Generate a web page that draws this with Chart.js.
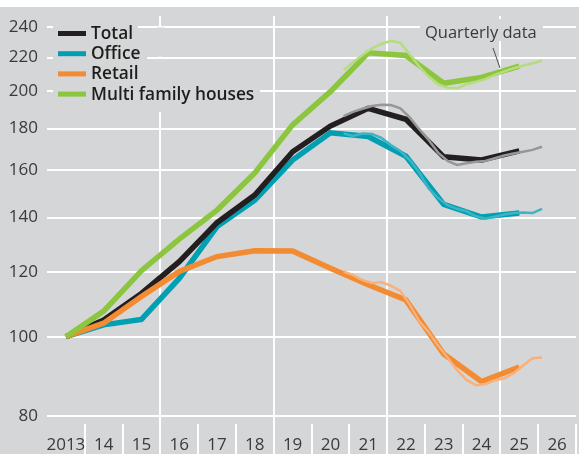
<!DOCTYPE html>
<html>
<head>
<meta charset="utf-8">
<script src="https://cdn.jsdelivr.net/npm/chart.js@4.4.1/dist/chart.umd.min.js"></script>
<style>
  html, body { margin: 0; padding: 0; background: #fff; }
  .frame { position: absolute; left: 0; top: 7px; width: 579px; height: 447px; background: #d5d6d8; }
  canvas { display: block; }
</style>
</head>
<body>
<div class="frame"><canvas id="chart" width="579" height="447"></canvas></div>
<script>
// annual index, 2013 = 100
const years = [2013, 2014, 2015, 2016, 2017, 2018, 2019, 2020, 2021, 2022, 2023, 2024, 2025];
const totalAnnual = [100, 104.8, 113, 123.6, 138, 149.2, 168.6, 181.3, 190.6, 184.8, 166.2, 164.7, 169];
const officeAnnual = [100, 103.4, 105, 117.9, 136.5, 147.1, 164.7, 177.9, 176, 166.5, 145.3, 140.2, 141.8];
const retailAnnual = [100, 103.9, 112, 120.2, 125.4, 127.5, 127.4, 121.3, 115.8, 110.9, 95.2, 88.1, 91.8];
const mfhAnnual = [100, 107.5, 120.5, 131.7, 143, 158.8, 181.9, 199.8, 223, 221.3, 204.6, 208, 214.8];

// quarterly index
const quarters = ['2020 Q4', '2021 Q1', '2021 Q2', '2021 Q3', '2021 Q4', '2022 Q1', '2022 Q2', '2022 Q3', '2022 Q4',
  '2023 Q1', '2023 Q2', '2023 Q3', '2023 Q4', '2024 Q1', '2024 Q2', '2024 Q3', '2024 Q4',
  '2025 Q1', '2025 Q2', '2025 Q3', '2025 Q4', '2026 Q1'];
const totalQuarterly = [186.5, 188.7, 190.4, 191.9, 192.6, 192.4, 190.6, 185.8, 179.7, 174.3, 168.2, 164.3, 162.4, 163.2, 163.9, 164.3, 165.5, 166.8, 167.8, 168.6, 169.5, 171];
const officeQuarterly = [177.5, 176.3, 177.5, 177.3, 175.3, 171.8, 169, 164.7, 159, 152, 148, 145, 143.5, 142.5, 140.5, 139.5, 140.3, 141.2, 141.8, 142, 141.8, 143.5];
const retailQuarterly = [120.2, 119, 117.3, 116.4, 116.6, 115.5, 113.8, 109.5, 104.5, 101.3, 97.5, 94.3, 91, 88.5, 87.2, 87.5, 88.4, 88.9, 90.2, 92.2, 94.1, 94.3];
const mfhQuarterly = [212.4, 217.1, 221.6, 225.8, 228.6, 230.6, 229.4, 222, 214.5, 208.5, 204, 202, 201.7, 204, 205.5, 207, 209.5, 211.5, 213.5, 215, 216.5, 218];

const xTickLabels = ['2013', '14', '15', '16', '17', '18', '19', '20', '21', '22', '23', '24', '25', '26'];
const yTicks = [80, 100, 120, 140, 160, 180, 200, 220, 240];
const gridYears = [2016, 2019, 2022, 2025];

const BG = '#d5d6d8';
const FONT = "'Open Sans', sans-serif";
const CLEAR = 'rgba(0,0,0,0)';

const annualX = years.map((y) => y + 0.5);
const quarterX = quarters.map((q) => {
  const [y, n] = q.split(' Q').map(Number);
  return y + n * 0.25 - 0.15;
});
const points = (xs, values) => values.map((v, i) => ({ x: xs[i], y: v }));

const series = [
  { label: 'Total', annual: totalAnnual, quarterly: totalQuarterly, color: '#231f20', light: '#979797', order: 3 },
  { label: 'Office', annual: officeAnnual, quarterly: officeQuarterly, color: '#00a0b2', light: '#3db4c4', order: 4 },
  { label: 'Retail', annual: retailAnnual, quarterly: retailQuarterly, color: '#f28b32', light: '#f9b07a', order: 2 },
  { label: 'Multi family houses', annual: mfhAnnual, quarterly: mfhQuarterly, color: '#8cc63e', light: '#b5dc7e', order: 1 }
];

const datasets = [];
series.forEach((s) => {
  datasets.push({ label: s.label, data: points(annualX, s.annual), borderColor: s.color, borderWidth: 5.5, order: s.order });
  datasets.push({ label: s.label + ' (quarterly)', data: points(quarterX, s.quarterly), borderColor: s.light, borderWidth: 2.5, order: 0 });
});

// gray boxes behind the legend rows and the note, same as the source graphic
const knockouts = [
  [53, 15, 85, 21], [53, 36, 94, 20], [53, 56, 88, 20], [53, 76, 207, 29],
  [157, 20.5, 8, 29], [157, 52, 8, 24],
  [420, 12, 123, 22]
];

const overlay = {
  id: 'overlay',
  beforeDatasetsDraw(chart) {
    const { ctx } = chart;
    ctx.save();
    ctx.fillStyle = BG;
    knockouts.forEach((r) => ctx.fillRect(r[0], r[1], r[2], r[3]));
    ctx.restore();
  },
  afterDatasetsDraw(chart) {
    const { ctx } = chart;
    ctx.save();
    series.forEach((s, i) => {
      const y = 26.5 + i * 20.2;
      ctx.strokeStyle = s.color;
      ctx.lineWidth = 5;
      ctx.beginPath(); ctx.moveTo(58, y); ctx.lineTo(86, y); ctx.stroke();
      ctx.fillStyle = '#1d1d1b';
      ctx.font = `600 17.3px ${FONT}`;
      ctx.textBaseline = 'middle';
      ctx.fillText(s.label, 91, y + 0.5);
    });
    ctx.font = `16.5px ${FONT}`;
    ctx.fillStyle = '#3a3a3a';
    ctx.textBaseline = 'alphabetic';
    ctx.fillText('Quarterly data', 425, 30.5);
    ctx.strokeStyle = '#4a4a4a';
    ctx.lineWidth = 1;
    ctx.beginPath(); ctx.moveTo(493, 41); ctx.lineTo(500, 61); ctx.stroke();
    ctx.restore();
  }
};

new Chart(document.getElementById('chart'), {
  type: 'line',
  data: { datasets },
  plugins: [overlay],
  options: {
    responsive: false,
    animation: false,
    events: [],
    layout: { padding: { top: 9, right: 3, left: 0, bottom: 0 } },
    plugins: { legend: { display: false }, tooltip: { enabled: false } },
    elements: { point: { radius: 0 }, line: { tension: 0 } },
    scales: {
      x: {
        type: 'linear', min: 2013, max: 2027,
        border: { display: false },
        afterFit: (scale) => { scale.height = 30; scale.paddingLeft = 0; scale.paddingRight = 0; },
        afterBuildTicks: (scale) => {
          const ticks = [];
          for (let v = 2013; v <= 2027; v += 0.5) ticks.push({ value: v });
          scale.ticks = ticks;
        },
        ticks: {
          autoSkip: false, maxRotation: 0, padding: -19, color: '#3a3a3a', font: { family: FONT, size: 17 },
          callback: (value) => (value % 1 === 0.5 ? xTickLabels[Math.floor(value) - 2013] : '')
        },
        grid: {
          lineWidth: 2, tickLength: 30, tickWidth: 2,
          color: (ctx) => (ctx.tick && gridYears.includes(ctx.tick.value) ? '#fff' : CLEAR),
          tickColor: (ctx) => (ctx.tick && Number.isInteger(ctx.tick.value) && ctx.tick.value > 2013 ? '#fff' : CLEAR)
        }
      },
      y: {
        type: 'logarithmic', min: 78.14, max: 247.4,
        border: { display: false },
        afterFit: (scale) => { scale.width = 47; scale.paddingTop = 0; scale.paddingBottom = 0; },
        afterBuildTicks: (scale) => { scale.ticks = yTicks.map((v) => ({ value: v })); },
        ticks: { padding: 9, color: '#3a3a3a', font: { family: FONT, size: 17 }, callback: (value) => String(value) },
        grid: { color: '#fff', lineWidth: 2, drawTicks: false }
      }
    }
  }
});
</script>
</body>
</html>
